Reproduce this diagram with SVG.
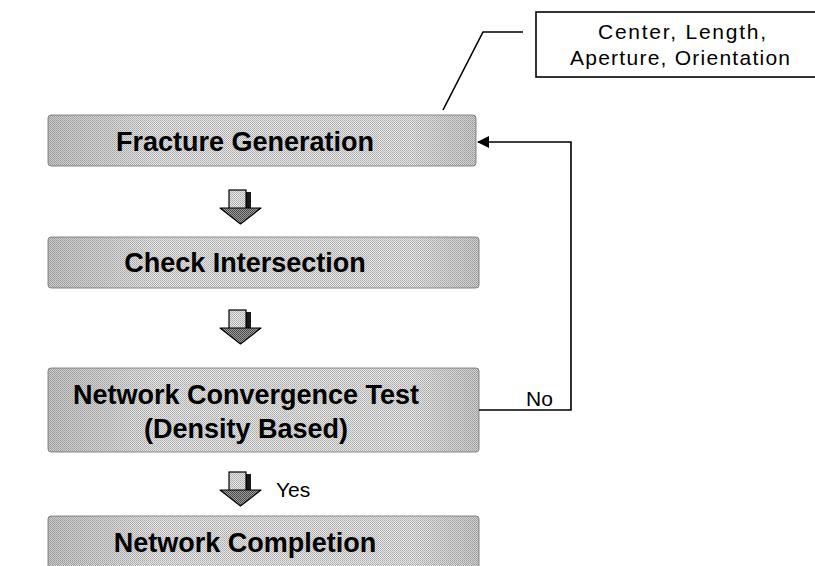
<svg xmlns="http://www.w3.org/2000/svg" width="815" height="566" viewBox="0 0 815 566">
<defs>
<pattern id="dither" width="2" height="2" patternUnits="userSpaceOnUse">
<rect width="2" height="2" fill="#e6e6e6"/>
<rect width="1" height="1" fill="#ababab"/>
<rect x="1" y="1" width="1" height="1" fill="#b8b8b8"/>
</pattern>
<pattern id="ditherDark" width="2" height="2" patternUnits="userSpaceOnUse">
<rect width="2" height="2" fill="#9a9a9a"/>
<rect width="1" height="1" fill="#444"/>
<rect x="1" y="1" width="1" height="1" fill="#555"/>
</pattern>
<linearGradient id="shade" x1="0" y1="0" x2="1" y2="0">
<stop offset="0" stop-color="#000" stop-opacity="0.12"/>
<stop offset="0.25" stop-color="#000" stop-opacity="0"/>
<stop offset="0.85" stop-color="#000" stop-opacity="0"/>
<stop offset="1" stop-color="#000" stop-opacity="0.1"/>
</linearGradient>
<marker id="arrowL" viewBox="0 0 12 12" refX="11" refY="6" markerWidth="12" markerHeight="12" markerUnits="userSpaceOnUse" orient="auto">
<path d="M0,0 L12,6 L0,12 Z" fill="#000"/>
</marker>
<g id="blockArrow">
<rect x="245" y="2" width="6" height="18" fill="#1a1a1a"/>
<rect x="229" y="0" width="17" height="19" fill="url(#dither)" stroke="#000" stroke-width="1.2"/>
<path d="M220,18 L261,18 L240.5,34 Z" fill="url(#ditherDark)" stroke="#000" stroke-width="1.2" stroke-linejoin="round"/>
</g>
</defs>
<style>
.box{fill:url(#dither);stroke:#8a8a8a;stroke-width:1}
.bt{font-family:"Liberation Sans",Arial,sans-serif;font-weight:bold;font-size:27px;fill:#000;text-anchor:middle}
.rt{font-family:"Liberation Sans",Arial,sans-serif;font-size:21px;fill:#000}
.ln{fill:none;stroke:#000;stroke-width:1.6}
</style>
<rect width="815" height="566" fill="#fff"/>

<g id="callout">
<rect x="536" y="12" width="290" height="65" fill="#fff" stroke="#000" stroke-width="1.6"/>
<text class="rt" x="682" y="39" text-anchor="middle" textLength="168" lengthAdjust="spacing">Center, Length,</text>
<text class="rt" x="680" y="65" text-anchor="middle" textLength="220" lengthAdjust="spacing">Aperture, Orientation</text>
</g>

<g id="fracture-generation">
<rect class="box" x="48" y="115" width="428" height="51" rx="3"/>
<rect x="48" y="115" width="428" height="51" rx="3" fill="url(#shade)"/>
<text class="bt" x="245" y="151">Fracture Generation</text>
</g>

<g id="check-intersection">
<rect class="box" x="48" y="237" width="431" height="51" rx="3"/>
<rect x="48" y="237" width="431" height="51" rx="3" fill="url(#shade)"/>
<text class="bt" x="245" y="272">Check Intersection</text>
</g>

<g id="network-convergence-test">
<rect class="box" x="48" y="368" width="431" height="84" rx="3"/>
<rect x="48" y="368" width="431" height="84" rx="3" fill="url(#shade)"/>
<text class="bt" x="246" y="404">Network Convergence Test</text>
<text class="bt" x="246" y="438">(Density Based)</text>
</g>

<g id="network-completion">
<rect class="box" x="48" y="516" width="431" height="60" rx="3"/>
<rect x="48" y="516" width="431" height="60" rx="3" fill="url(#shade)"/>
<text class="bt" x="245" y="552">Network Completion</text>
</g>

<g id="connectors">
<path class="ln" d="M443,110 L483,32 L523,32"/>
<path class="ln" d="M479,410 L571,410 L571,142 L478,142" marker-end="url(#arrowL)"/>
<use href="#blockArrow" transform="translate(0,190)"/>
<use href="#blockArrow" transform="translate(0,310)"/>
<use href="#blockArrow" transform="translate(0,472)"/>
<text class="rt" x="526" y="406">No</text>
<text class="rt" x="276" y="497">Yes</text>
</g>
</svg>
